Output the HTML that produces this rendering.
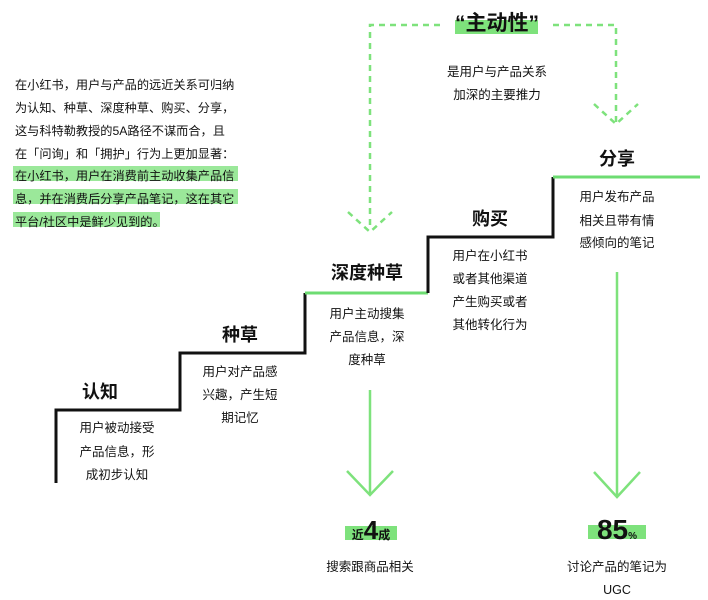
<!DOCTYPE html>
<html><head><meta charset="utf-8"><style>
html,body{margin:0;padding:0;background:#fff;}
svg{display:block;font-family:"Liberation Sans","Noto Sans CJK SC",sans-serif;}
</style></head><body>
<svg width="708" height="600" viewBox="0 0 708 600" xmlns="http://www.w3.org/2000/svg">
<rect x="13" y="166" width="225" height="15" fill="#9be89a"/>
<rect x="13" y="189" width="225" height="15" fill="#9be89a"/>
<rect x="13" y="212" width="147" height="15" fill="#9be89a"/>
<g font-size="12.2" fill="#111">
<text x="15" y="89">在小红书，用户与产品的远近关系可归纳</text>
<text x="15" y="112">为认知、种草、深度种草、购买、分享，</text>
<text x="15" y="135">这与科特勒教授的5A路径不谋而合，且</text>
<text x="15" y="158">在「问询」和「拥护」行为上更加显著：</text>
<text x="15" y="180">在小红书，用户在消费前主动收集产品信</text>
<text x="15" y="203">息，并在消费后分享产品笔记，这在其它</text>
<text x="15" y="226">平台/社区中是鲜少见到的。</text>
</g>
<polyline points="56,483 56,410 180,410 180,353 305,353 305,293" fill="none" stroke="#111" stroke-width="3"/>
<line x1="305" y1="293" x2="428" y2="293" stroke="#6ddc72" stroke-width="3"/>
<polyline points="428,293 428,237 553,237 553,177" fill="none" stroke="#111" stroke-width="3"/>
<line x1="553" y1="177" x2="700" y2="177" stroke="#6ddc72" stroke-width="3"/>
<g fill="none" stroke="#7ee27c" stroke-width="2.5" stroke-dasharray="6,5">
<polyline points="440,25 370,25 370,230"/>
<polyline points="553,25 616,25 616,125"/>
<polyline points="348,212 370,232 392,212"/>
<polyline points="594,104 616,124 638,104"/>
</g>
<rect x="455" y="20" width="83" height="14" fill="#7ee27c"/>
<text x="497" y="30" font-size="21" font-weight="bold" text-anchor="middle" fill="#111">“主动性”</text>
<g font-size="12.5" fill="#111" text-anchor="middle">
<text x="497" y="76">是用户与产品关系</text>
<text x="497" y="99">加深的主要推力</text>
</g>
<g font-size="18" font-weight="bold" fill="#111" text-anchor="middle">
<text x="100" y="398">认知</text>
<text x="240" y="341">种草</text>
<text x="367" y="279">深度种草</text>
<text x="490" y="225">购买</text>
<text x="617" y="165">分享</text>
</g>
<g font-size="12.5" fill="#111" text-anchor="middle">
<text x="117" y="432">用户被动接受</text>
<text x="117" y="456">产品信息，形</text>
<text x="117" y="479">成初步认知</text>
<text x="240" y="376">用户对产品感</text>
<text x="240" y="399">兴趣，产生短</text>
<text x="240" y="422">期记忆</text>
<text x="367" y="318">用户主动搜集</text>
<text x="367" y="341">产品信息，深</text>
<text x="367" y="364">度种草</text>
<text x="490" y="260">用户在小红书</text>
<text x="490" y="283">或者其他渠道</text>
<text x="490" y="306">产生购买或者</text>
<text x="490" y="329">其他转化行为</text>
<text x="617" y="201">用户发布产品</text>
<text x="617" y="225">相关且带有情</text>
<text x="617" y="247">感倾向的笔记</text>
</g>
<g fill="none" stroke="#7ee27c" stroke-width="2.5">
<line x1="370" y1="390" x2="370" y2="495"/>
<polyline points="347,471 370,495 393,471"/>
<line x1="617" y1="272" x2="617" y2="497"/>
<polyline points="594,472 617,497 640,472"/>
</g>
<rect x="345" y="526" width="52" height="14" fill="#7ee27c"/>
<text x="371" y="539" text-anchor="middle" fill="#111" font-weight="bold"><tspan font-size="12">近</tspan><tspan font-size="26">4</tspan><tspan font-size="12">成</tspan></text>
<text x="370" y="571" font-size="12.5" text-anchor="middle" fill="#111">搜索跟商品相关</text>
<rect x="588" y="525" width="58" height="14" fill="#7ee27c"/>
<text x="617" y="539" text-anchor="middle" fill="#111" font-weight="bold"><tspan font-size="28">85</tspan><tspan font-size="10">%</tspan></text>
<text x="617" y="571" font-size="12.5" text-anchor="middle" fill="#111">讨论产品的笔记为</text>
<text x="617" y="594" font-size="12.5" text-anchor="middle" fill="#111">UGC</text>
</svg>
</body></html>
